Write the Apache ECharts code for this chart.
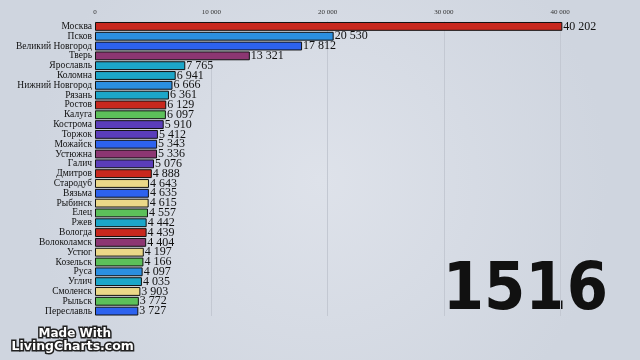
<!DOCTYPE html>
<html>
<head>
<meta charset="utf-8">
<script src="https://cdn.jsdelivr.net/npm/echarts@6/dist/echarts.min.js"></script>
<style>
html,body{margin:0;padding:0;}
#chart{width:640px;height:360px;}
</style>
</head>
<body>
<div id="chart"></div>
<script>
const cities = ["Москва","Псков","Великий Новгород","Тверь","Ярославль","Коломна","Нижний Новгород","Рязань","Ростов","Калуга","Кострома","Торжок","Можайск","Устюжна","Галич","Дмитров","Стародуб","Вязьма","Рыбинск","Елец","Ржев","Вологда","Волоколамск","Устюг","Козельск","Руса","Углич","Смоленск","Рыльск","Переславль"];
const values = [40202,20530,17812,13321,7765,6941,6666,6361,6129,6097,5910,5412,5343,5336,5076,4888,4643,4635,4615,4557,4442,4439,4404,4197,4166,4097,4035,3903,3772,3727];
const year = "1516";
const xTicks = [0,10000,20000,30000,40000];

const RED="#c8281e", LBLUE="#2b8fe0", BLUE="#2d62ee", MAG="#8c3672", CYAN="#1ca6c9", GREEN="#5cc05a", PURP="#5a3dba", YEL="#ebd888";
const barColors = [RED,LBLUE,BLUE,MAG,CYAN,CYAN,LBLUE,CYAN,RED,GREEN,PURP,PURP,BLUE,MAG,PURP,RED,YEL,BLUE,YEL,GREEN,CYAN,RED,MAG,YEL,GREEN,LBLUE,CYAN,YEL,GREEN,BLUE];

function fmt(v){return String(v).replace(/\B(?=(\d{3})+(?!\d))/g,' ');}

const chart = echarts.init(document.getElementById('chart'));
chart.setOption({
  backgroundColor: {
    type:'radial', x:0.5, y:0.5, r:0.8,
    colorStops:[{offset:0,color:'#dee2ea'},{offset:1,color:'#cfd5df'}]
  },
  animation:false,
  grid:{left:95, top:21.5, width:465, height:294.5, containLabel:false},
  xAxis:{
    type:'value', position:'top', min:xTicks[0], max:xTicks[xTicks.length-1], interval:10000,
    axisLine:{show:false}, axisTick:{show:false},
    axisLabel:{fontFamily:'Liberation Serif', fontSize:7, color:'#333', margin:6,
      formatter:v=>fmt(v)},
    splitLine:{lineStyle:{color:'#c3c8d2', width:1}}
  },
  yAxis:{
    type:'category', inverse:true, data:cities,
    axisLine:{show:false}, axisTick:{show:false},
    axisLabel:{interval:0, fontFamily:'Liberation Serif', fontSize:9.5, color:'#111', margin:3}
  },
  series:[{
    type:'bar', clip:false,
    data: values.map((v,i)=>({value:v, itemStyle:{color:barColors[i]}})),
    barCategoryGap:'10%',
    itemStyle:{borderColor:'#111', borderWidth:1},
    label:{show:true, position:'right', distance:1, fontFamily:'Liberation Serif', fontSize:12, color:'#111',
      formatter:p=>fmt(p.value)}
  }],
  graphic:[
    {type:'text', right:32, top:259, style:{text:year, font:'bold 66px "DejaVu Sans Condensed"', fill:'#111'}},
    {type:'text', left:37, top:326, style:{text:'Made With', font:'bold 12px "DejaVu Sans"', fill:'#fff', stroke:'#222', lineWidth:3}},
    {type:'text', left:10, top:339, style:{text:'LivingCharts.com', font:'bold 12.5px "DejaVu Sans"', fill:'#fff', stroke:'#222', lineWidth:3}}
  ]
});
</script>
</body>
</html>
